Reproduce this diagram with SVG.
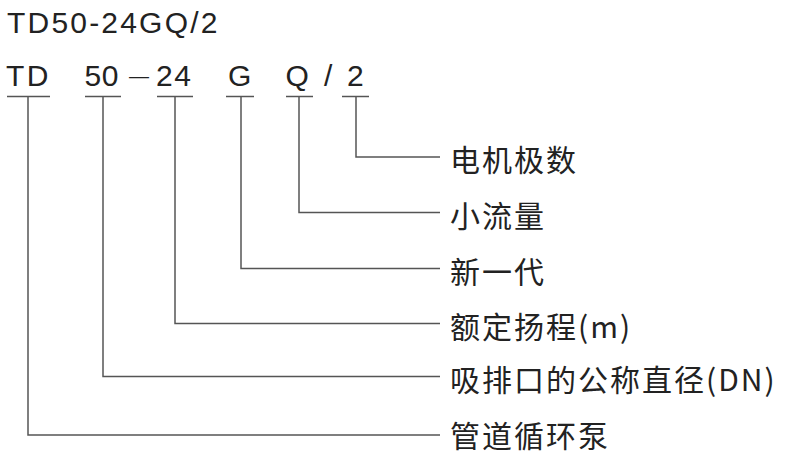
<svg xmlns="http://www.w3.org/2000/svg" width="790" height="460" viewBox="0 0 790 460">
<style>
.code{font-family:"Liberation Sans",Arial,sans-serif;font-size:30px;fill:#222;}
.lbl{font-family:"Noto Sans CJK SC","Noto Sans",sans-serif;font-size:30px;fill:#222;letter-spacing:2px;}
.ln{fill:none;stroke:#555;stroke-width:1.5;}
</style>
<rect width="790" height="460" fill="#fff"/>
<g id="title"><text class="code" x="7" y="33" letter-spacing="2.2">TD50-24GQ/2</text></g>
<g id="code">
<text class="code" x="6" y="86" letter-spacing="2.5">TD</text>
<text class="code" x="84.5" y="86" letter-spacing="0.5">50</text>
<text class="code" x="129" y="83" style="font-size:20px">—</text>
<text class="code" x="156" y="86" letter-spacing="1.5">24</text>
<text class="code" x="228" y="86">G</text>
<text class="code" x="285.5" y="86">Q</text>
<text class="code" x="324" y="86">/</text>
<text class="code" x="347" y="86">2</text>
</g>
<g id="connectors">
<line class="ln" x1="7" y1="96.5" x2="50" y2="96.5"/>
<line class="ln" x1="85" y1="96.5" x2="121" y2="96.5"/>
<line class="ln" x1="157" y1="96.5" x2="193" y2="96.5"/>
<line class="ln" x1="226" y1="96.5" x2="254" y2="96.5"/>
<line class="ln" x1="286" y1="96.5" x2="313" y2="96.5"/>
<line class="ln" x1="342" y1="96.5" x2="369" y2="96.5"/>
<polyline class="ln" points="356,96.5 356,157 440,157"/>
<polyline class="ln" points="299,96.5 299,212.5 440,212.5"/>
<polyline class="ln" points="241,96.5 241,268.5 440,268.5"/>
<polyline class="ln" points="175,96.5 175,323.5 440,323.5"/>
<polyline class="ln" points="103,96.5 103,376.5 440,376.5"/>
<polyline class="ln" points="28,96.5 28,435 440,435"/>
</g>
<g id="n-poles"><text class="lbl" x="450" y="171">电机极数</text></g>
<g id="n-flow"><text class="lbl" x="450" y="226.5">小流量</text></g>
<g id="n-gen"><text class="lbl" x="450" y="282.5">新一代</text></g>
<g id="n-head"><text class="lbl" x="450" y="337.5">额定扬程(m)</text></g>
<g id="n-dn"><text class="lbl" x="450" y="390.5">吸排口的公称直径(DN)</text></g>
<g id="n-pump"><text class="lbl" x="450" y="447">管道循环泵</text></g>
</svg>
